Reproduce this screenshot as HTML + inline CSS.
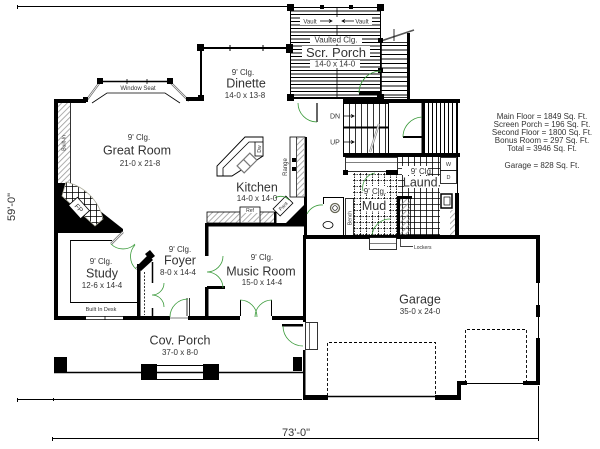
<!DOCTYPE html>
<html><head><meta charset="utf-8">
<style>
html,body{margin:0;padding:0;background:#fff;}
svg{display:block;}
text{font-family:"Liberation Sans",Arial,sans-serif;fill:#333;}
</style></head><body>
<svg width="600" height="449" viewBox="0 0 600 449" xmlns="http://www.w3.org/2000/svg">
<defs>
<pattern id="h" width="4" height="4" patternUnits="userSpaceOnUse" patternTransform="rotate(45)"><rect width="0.8" height="4" fill="#999"/></pattern>
<pattern id="sh" width="10" height="3.5" patternUnits="userSpaceOnUse"><rect width="10" height="1" fill="#000"/></pattern>
<pattern id="sh5" width="10" height="4.5" patternUnits="userSpaceOnUse"><rect width="10" height="1" fill="#000"/></pattern>
<pattern id="sv" width="4" height="10" patternUnits="userSpaceOnUse"><rect width="1" height="10" fill="#000"/></pattern>
<pattern id="tile" width="6" height="6" patternUnits="userSpaceOnUse"><path d="M0,0.5H6M0.5,0V6" stroke="#000" stroke-width="0.8"/></pattern>
<pattern id="tiled" width="6" height="6" patternUnits="userSpaceOnUse"><path d="M0,0.5H6M0.5,0V6" stroke="#000" stroke-width="0.8" stroke-dasharray="1.5,1"/></pattern>
</defs>
<rect width="600" height="449" fill="#fff"/>

<!-- dimension lines -->
<g stroke="#000" stroke-width="1" fill="none">
<path d="M17,6.5H287"/>
<path d="M17,399.5H302"/>
<path d="M52,438.5H538"/>
<path d="M538.5,386V441"/>
<path d="M17.5,5V9M17.5,398V402M53.5,398V401M52.5,437V441"/>
</g>
<text transform="translate(15,207) rotate(-90)" text-anchor="middle" font-size="11">59'-0"</text>
<text x="296" y="436" text-anchor="middle" font-size="11">73'-0"</text>

<!-- Screened porch -->
<rect x="290" y="7" width="91" height="91" fill="url(#sh)"/>
<rect x="290.5" y="7.5" width="90" height="90" fill="none" stroke="#000"/>
<path d="M337,7V98" stroke="#000" stroke-width="0.8"/>
<rect x="287" y="4" width="7" height="7"/><rect x="377" y="4" width="7" height="7"/>
<rect x="287" y="94" width="7" height="7"/><rect x="377" y="94" width="7" height="7"/>
<rect x="320" y="5" width="4" height="4"/><rect x="349" y="5" width="4" height="4"/>
<rect x="286" y="44" width="7" height="9"/>
<rect x="300" y="17" width="72" height="8" fill="#fff"/>
<text x="310" y="23.5" text-anchor="middle" font-size="6">Vault</text>
<path d="M320,21H332M329,19.5L332,21L329,22.5M342,21H354M345,19.5L342,21L345,22.5" stroke="#000" stroke-width="0.7" fill="none"/>
<text x="362" y="23.5" text-anchor="middle" font-size="6">Vault</text>
<rect x="310" y="36" width="52" height="8" fill="#fff"/>
<text x="336" y="42.5" text-anchor="middle" font-size="8">Vaulted Clg.</text>
<rect x="302" y="46" width="68" height="13" fill="#fff"/>
<text x="336" y="57" text-anchor="middle" font-size="13">Scr. Porch</text>
<rect x="310" y="60" width="50" height="8" fill="#fff"/>
<text x="335" y="66.5" text-anchor="middle" font-size="8">14-0 x 14-0</text>

<!-- stairs right of porch -->
<rect x="381" y="42" width="27" height="56" fill="url(#sh5)"/>
<rect x="381.5" y="42.5" width="26" height="55" fill="none" stroke="#000" stroke-width="0.8"/>
<rect x="407" y="33" width="3" height="68"/>
<path d="M381,41 L414,30" stroke="#555" stroke-width="1.6"/>
<path d="M394,29V41" stroke="#000" stroke-width="0.8"/>
<rect x="378" y="38" width="5" height="5"/><rect x="378" y="68" width="5" height="5"/>
<rect x="359" y="92" width="22" height="2.5"/>
<path d="M381,71 A22,22 0 0,0 359,93" stroke="#3a9a3a" stroke-width="0.8" fill="none"/>

<!-- Dinette -->
<rect x="200" y="47" width="90" height="2"/>
<rect x="200" y="47" width="2" height="53"/>
<rect x="197" y="44" width="7" height="7"/>
<path d="M230,45V51M263,45V51" stroke="#000"/>
<rect x="198" y="95" width="6" height="6"/>
<text x="243" y="75" text-anchor="middle" font-size="8">9' Clg.</text>
<text x="246" y="87.5" text-anchor="middle" font-size="12.5">Dinette</text>
<text x="245" y="98" text-anchor="middle" font-size="8">14-0 x 13-8</text>

<!-- Great room -->
<rect x="54" y="99" width="4" height="221"/>
<rect x="54" y="99" width="32" height="4"/>
<path d="M86,101 L100,82 M170,82 L189,101" stroke="#666" stroke-width="2.2" fill="none"/>
<path d="M86,101 L100,82 M170,82 L189,101" stroke="#fff" stroke-width="0.7" fill="none"/>
<path d="M100,81.5H170" stroke="#000" stroke-width="1.5"/>
<path d="M127,79V84M147,79V84" stroke="#000" stroke-width="0.8"/>
<rect x="97" y="78" width="6" height="6"/><rect x="167" y="78" width="6" height="6"/>
<rect x="83" y="97" width="5" height="5"/>
<rect x="186" y="97" width="16" height="4"/>
<path d="M92,103 L107,93 H165 L180,103" stroke="#000" stroke-width="0.8" fill="none"/>
<text x="138" y="90" text-anchor="middle" font-size="6">Window Seat</text>
<text x="139" y="140" text-anchor="middle" font-size="8">9' Clg.</text>
<text x="137" y="154.5" text-anchor="middle" font-size="12.5">Great Room</text>
<text x="140" y="166" text-anchor="middle" font-size="8">21-0 x 21-8</text>

<!-- built-in and fireplace -->
<rect x="58" y="103" width="12" height="80" fill="url(#h)"/>
<path d="M70.5,103V183" stroke="#000" stroke-width="0.8"/>
<text transform="translate(65.5,143) rotate(-90)" text-anchor="middle" font-size="5">Built-In</text>
<polygon points="58,183 66,183 90,203 123,229 123,233 58,233" fill="#000"/>
<path d="M66,182 A49,49 0 0,1 103,219 L95,226 L62,196 Z" fill="#fff"/>
<path d="M66,182 A49,49 0 0,1 103,219 L95,226 L62,196 Z" fill="url(#tile)" stroke="#aa9" stroke-width="0.8"/>
<g transform="translate(79,208) rotate(48)"><rect x="-9" y="-6" width="18" height="12" fill="#fff" stroke="#000" stroke-width="0.8"/><text x="0" y="2.5" text-anchor="middle" font-size="7">FP</text></g>

<!-- Study -->
<path d="M123,232 L111,244" stroke="#777" stroke-width="2.4"/>
<path d="M123,232 L111,244" stroke="#fff" stroke-width="0.8"/>
<path d="M111,244 A17,17 0 0,0 135,244" stroke="#3a9a3a" stroke-width="0.8" fill="none"/>
<path d="M148,257 L136,269" stroke="#777" stroke-width="2.4"/>
<path d="M148,257 L136,269" stroke="#fff" stroke-width="0.8"/>
<path d="M136,269 A17,17 0 0,1 135,245" stroke="#3a9a3a" stroke-width="0.8" fill="none"/>
<polygon points="145,254 150,250 155,256 150,260" fill="#000"/>
<path d="M112,240.5H70.5V302.5H137" stroke="#000" stroke-width="0.9" fill="none"/>
<text x="101" y="311" text-anchor="middle" font-size="5.5">Built In Desk</text>
<text x="101" y="264" text-anchor="middle" font-size="8">9' Clg.</text>
<text x="102" y="277.5" text-anchor="middle" font-size="12.5">Study</text>
<text x="102" y="288" text-anchor="middle" font-size="8">12-6 x 14-4</text>

<!-- bottom front wall -->
<rect x="54" y="316" width="32" height="4"/>
<path d="M86,316.5H123M86,319.5H123M105,316V320" stroke="#000" stroke-width="0.8"/>
<rect x="123" y="316" width="47" height="4"/>
<path d="M170,318H188" stroke="#000" stroke-width="0.6"/>
<rect x="188" y="316" width="52" height="4"/>
<rect x="272" y="316" width="34" height="4"/>

<!-- Foyer -->
<rect x="137" y="264" width="3.5" height="54"/>
<polygon points="137,266 148,255 153,260 141,271" fill="#000"/>
<path d="M144.5,272V315" stroke="#000" stroke-width="0.8" stroke-dasharray="2,1.5"/>
<path d="M152.5,262V283M152.5,308V316" stroke="#000" stroke-width="1.5"/>
<path d="M164,283 A12,12 0 0,1 152,295 M164,307 A12,12 0 0,0 152,295" stroke="#3a9a3a" stroke-width="0.8" fill="none"/>
<path d="M187,298V316M189.5,298V316" stroke="#000" stroke-width="0.8"/>
<path d="M188,299 A18,18 0 0,0 170,317" stroke="#3a9a3a" stroke-width="0.8" fill="none"/>
<text x="180" y="252" text-anchor="middle" font-size="8">9' Clg.</text>
<text x="180" y="264.5" text-anchor="middle" font-size="12.5">Foyer</text>
<text x="178" y="275" text-anchor="middle" font-size="8">8-0 x 14-4</text>

<!-- Music room -->
<rect x="205" y="223" width="3.5" height="33"/>
<rect x="205" y="287" width="3.5" height="33"/>
<rect x="207" y="286" width="18" height="3"/>
<path d="M223,256 A16,16 0 0,1 207,272 M223,288 A16,16 0 0,0 207,272" stroke="#3a9a3a" stroke-width="0.8" fill="none"/>
<path d="M240.5,300V316M271.5,300V316" stroke="#000" stroke-width="1"/>
<path d="M240,300 A17,17 0 0,1 257,317 M272,300 A17,17 0 0,0 255,317" stroke="#3a9a3a" stroke-width="0.8" fill="none"/>
<text x="262" y="260" text-anchor="middle" font-size="8">9' Clg.</text>
<text x="261" y="275.5" text-anchor="middle" font-size="12.5">Music Room</text>
<text x="262" y="285" text-anchor="middle" font-size="8">15-0 x 14-4</text>

<!-- Kitchen -->
<rect x="304" y="137" width="3" height="102"/>
<rect x="290" y="137" width="15" height="60" fill="#fff" stroke="#000" stroke-width="0.8"/>
<rect x="297" y="138" width="7" height="58" fill="url(#h)"/>
<path d="M296.5,137V197" stroke="#000" stroke-width="0.7"/>
<rect x="292" y="158" width="4" height="4"/><rect x="292" y="167" width="4" height="4"/>
<text transform="translate(287,167) rotate(-90)" text-anchor="middle" font-size="6">Range</text>
<polygon points="245,137 263,137 263,156 232,176 217,176 217,166" fill="none" stroke="#000" stroke-width="0.9"/>
<polyline points="223,176 223,168 249,142 255,142" fill="none" stroke="#000" stroke-width="0.8"/>
<rect x="255" y="142" width="8" height="14" fill="#fff" stroke="#000" stroke-width="0.8"/>
<text transform="translate(261,149) rotate(-90)" text-anchor="middle" font-size="5">Dw</text>
<g transform="translate(247,163) rotate(-45)"><rect x="-9" y="-5" width="18" height="10" fill="#fff" stroke="#777" stroke-width="1.2"/><path d="M0,-5V5" stroke="#777" stroke-width="1.2"/></g>
<rect x="207" y="212" width="68" height="11" fill="url(#h)" stroke="#000" stroke-width="0.8"/>
<rect x="240" y="207" width="20" height="16" fill="#fff" stroke="#000" stroke-width="0.8"/>
<rect x="241" y="213" width="18" height="9" fill="url(#h)"/>
<text x="250" y="212" text-anchor="middle" font-size="5">Ref</text>
<rect x="274" y="212" width="2.5" height="13"/>
<rect x="205" y="223" width="102" height="3.5"/>
<polygon points="283,226 306,203 306,226" fill="#000"/>
<g transform="translate(283,206) rotate(-45)"><rect x="-9" y="-5" width="18" height="10" fill="#fff" stroke="#000" stroke-width="0.8"/><text x="0" y="2" text-anchor="middle" font-size="5">Pant</text></g>
<path d="M275,198 A11,11 0 0,1 289,200" stroke="#3a9a3a" stroke-width="0.8" fill="none"/>
<text x="257" y="191.5" text-anchor="middle" font-size="12.5">Kitchen</text>
<text x="257" y="200.8" text-anchor="middle" font-size="8">14-0 x 14-0</text>

<!-- hall and dinette door -->
<rect x="290" y="97" width="91" height="2"/>
<rect x="343" y="99" width="117" height="4"/>
<path d="M317,103V122" stroke="#000" stroke-width="1.2"/>
<path d="M298,103 A19,19 0 0,0 317,122" stroke="#3a9a3a" stroke-width="0.8" fill="none"/>

<!-- stairs -->
<rect x="343.5" y="103.5" width="45" height="50" fill="none" stroke="#000"/>
<path d="M343,127.5H388" stroke="#000" stroke-width="2"/>
<path d="M349.5,103V153M355.5,103V153M361.5,103V153M367.5,103V153M373.5,103V153M379.5,103V153M385.5,103V153" stroke="#000" stroke-width="0.8"/>
<path d="M379,124 L370,152" stroke="#888" stroke-width="2.2"/>
<path d="M379,124 L370,152" stroke="#fff" stroke-width="0.8"/>
<text x="335" y="118.5" text-anchor="middle" font-size="7">DN</text>
<path d="M344,116H354M351,114.5L354,116L351,117.5" stroke="#000" stroke-width="0.8" fill="none"/>
<text x="335" y="144.5" text-anchor="middle" font-size="7">UP</text>
<path d="M344,142H354M351,140.5L354,142L351,143.5" stroke="#000" stroke-width="0.8" fill="none"/>

<!-- closet + deck -->
<rect x="421.5" y="100" width="3.5" height="55"/>
<rect x="403" y="136" width="19" height="2"/>
<path d="M422,117 A20,20 0 0,0 403,137" stroke="#3a9a3a" stroke-width="0.8" fill="none"/>
<rect x="425" y="102" width="32" height="51" fill="url(#sv)"/>
<path d="M457.5,100V155" stroke="#000" stroke-width="1"/>
<rect x="343" y="153" width="117" height="4"/>

<!-- laundry / mud -->
<rect x="398" y="157" width="42" height="80" fill="url(#tile)"/>
<rect x="353" y="172" width="44" height="65" fill="url(#tiled)"/>
<rect x="345.5" y="157.5" width="52" height="14" fill="none" stroke="#000" stroke-width="0.8"/>
<path d="M346,162.5H397" stroke="#000" stroke-width="0.6"/>
<rect x="343" y="170" width="5" height="5"/>
<rect x="386" y="170" width="12" height="5"/>
<rect x="397" y="196" width="15" height="3"/>
<rect x="397" y="196" width="3" height="41"/>
<rect x="400" y="199" width="10" height="38" fill="url(#h)"/>
<path d="M410.5,199V237" stroke="#000" stroke-width="0.8"/>
<rect x="402" y="166" width="26" height="9" fill="#fff"/>
<text x="422" y="174" text-anchor="middle" font-size="8">9' Clg.</text>
<rect x="404" y="176" width="36" height="12" fill="#fff"/>
<text x="422" y="186.5" text-anchor="middle" font-size="12.5">Laund.</text>
<rect x="440.5" y="157.5" width="16" height="13" fill="#fff" stroke="#000" stroke-width="0.8"/>
<text x="448.5" y="166" text-anchor="middle" font-size="5.5">W</text>
<rect x="440.5" y="170.5" width="16" height="13" fill="#fff" stroke="#000" stroke-width="0.8"/>
<text x="448.5" y="179" text-anchor="middle" font-size="5.5">D</text>
<rect x="441" y="194" width="11" height="14" fill="#fff" stroke="#000" stroke-width="1.5"/>
<rect x="444" y="197" width="6" height="8" fill="none" stroke="#000" stroke-width="0.7"/>
<rect x="450" y="210" width="6" height="27" fill="url(#h)"/>
<path d="M457.5,155V193" stroke="#000" stroke-width="1"/>
<rect x="455" y="193" width="4" height="44"/>
<rect x="363" y="186" width="24" height="8" fill="#fff"/>
<text x="375" y="194" text-anchor="middle" font-size="8">9' Clg.</text>
<rect x="361" y="199" width="27" height="12" fill="#fff"/>
<text x="374" y="210" text-anchor="middle" font-size="12.5">Mud</text>
<rect x="345.5" y="198.5" width="8" height="38" fill="#fff" stroke="#000" stroke-width="0.8"/>
<text transform="translate(351.5,218) rotate(-90)" text-anchor="middle" font-size="5">Bench</text>
<path d="M372,237 A18,18 0 0,1 390,219" stroke="#3a9a3a" stroke-width="0.8" fill="none"/>
<path d="M363,191 A15,15 0 0,1 375,173" stroke="#3a9a3a" stroke-width="0.8" fill="none"/>

<!-- bath -->
<path d="M323,197.5H343M323.5,197V204M343.5,197V237" stroke="#000" stroke-width="1"/>
<path d="M307,214 A16,16 0 0,1 323,205" stroke="#3a9a3a" stroke-width="0.8" fill="none"/>
<circle cx="335" cy="208" r="4.5" fill="none" stroke="#665" stroke-width="1.3"/>
<circle cx="335" cy="208" r="2.3" fill="none" stroke="#000" stroke-width="0.7"/>
<ellipse cx="328" cy="225" rx="5" ry="3.5" fill="none" stroke="#000" stroke-width="0.8"/>

<!-- garage -->
<rect x="303" y="235" width="237" height="4"/>
<rect x="536" y="237" width="4" height="46"/>
<path d="M538.5,283V305M538.5,317V338" stroke="#000" stroke-width="1"/>
<rect x="536" y="305" width="4" height="12"/>
<rect x="536" y="338" width="4" height="47"/>
<rect x="523" y="381" width="17" height="4"/>
<path d="M460,383.5H523" stroke="#000" stroke-width="1"/>
<rect x="457" y="381" width="4" height="19"/>
<rect x="457" y="381" width="10" height="4"/>
<rect x="303" y="395" width="25" height="5"/>
<path d="M328,396.5H435" stroke="#000" stroke-width="1.5"/>
<rect x="435" y="395" width="26" height="5"/>
<path d="M327.5,396V342.5H435.5V396" fill="none" stroke="#000" stroke-width="0.9" stroke-dasharray="3,2"/>
<path d="M465.5,383V329.5H526.5V383" fill="none" stroke="#000" stroke-width="0.9" stroke-dasharray="3,2"/>
<rect x="303" y="237" width="3" height="85"/>
<rect x="303" y="350" width="2.5" height="50"/>
<rect x="305.5" y="322.5" width="12" height="27" fill="#fff" stroke="#000" stroke-width="0.8"/>
<path d="M309.5,323V349" stroke="#000" stroke-width="0.6"/>
<rect x="282" y="324" width="21" height="2.5"/>
<path d="M283,326 A20,20 0 0,0 303,346" stroke="#3a9a3a" stroke-width="0.8" fill="none"/>
<rect x="369.5" y="237.5" width="27" height="12" fill="#fff" stroke="#000" stroke-width="0.8"/>
<path d="M370,243.5H396" stroke="#000" stroke-width="0.6"/>
<path d="M400.5,237V246.5H413" stroke="#000" stroke-width="0.7" fill="none"/>
<text x="414" y="249" font-size="5">Lockers</text>
<text x="420" y="303.5" text-anchor="middle" font-size="12.5">Garage</text>
<text x="420" y="314" text-anchor="middle" font-size="8">35-0 x 24-0</text>

<!-- covered porch -->
<path d="M54,372.5H305" stroke="#000" stroke-width="1.5"/>
<rect x="54" y="357" width="13" height="15"/>
<rect x="293" y="357" width="9" height="14"/>
<rect x="141" y="364" width="16" height="16"/>
<rect x="203" y="364" width="16" height="16"/>
<path d="M157,365.5H203M157,379.5H203" stroke="#000" stroke-width="1"/>
<text x="180" y="344.5" text-anchor="middle" font-size="12.5">Cov. Porch</text>
<text x="180" y="355" text-anchor="middle" font-size="8">37-0 x 8-0</text>

<!-- area info -->
<g font-size="8" text-anchor="middle">
<text x="542" y="119">Main Floor = 1849 Sq. Ft.</text>
<text x="542" y="127">Screen Porch = 196 Sq. Ft.</text>
<text x="542" y="135">Second Floor = 1800 Sq. Ft.</text>
<text x="542" y="143">Bonus Room = 297 Sq. Ft.</text>
<text x="542" y="151">Total = 3946 Sq. Ft.</text>
<text x="542" y="168">Garage = 828 Sq. Ft.</text>
</g>
</svg>
</body></html>
